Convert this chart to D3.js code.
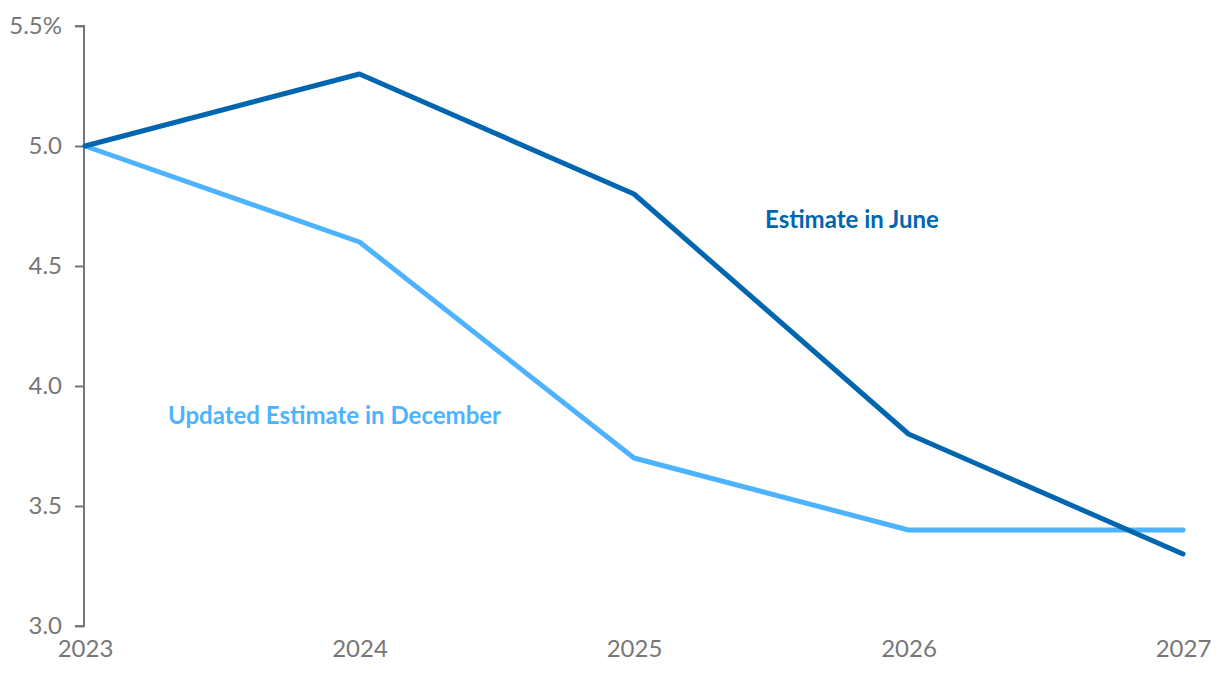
<!DOCTYPE html>
<html><head><meta charset="utf-8">
<script src="https://cdn.jsdelivr.net/npm/d3@7"></script>
<style>body{margin:0;background:#fff;font-family:Lato,sans-serif}</style>
</head><body><svg id="c" width="1220" height="678"></svg>
<script>
const years = [2023, 2024, 2025, 2026, 2027];
const juneEstimate = [5.0, 5.3, 4.8, 3.8, 3.3];
const decemberEstimate = [5.0, 4.6, 3.7, 3.4, 3.4];
const yTicks = [3.0, 3.5, 4.0, 4.5, 5.0, 5.5];
const seriesNames = ["Estimate in June", "Updated Estimate in December"];

const svg = d3.select("#c");
const x = d3.scaleLinear().domain([2023, 2027]).range([85, 1183]);
const y = d3.scaleLinear().domain([3.0, 5.5]).range([626, 26]);

const yAxis = d3.axisLeft(y).tickValues(yTicks).tickSize(9).tickPadding(13)
  .tickFormat(d => d === 5.5 ? d3.format(".1f")(d) + "%" : d3.format(".1f")(d));
const gy = svg.append("g").attr("transform", "translate(84,0)").call(yAxis);
gy.selectAll("path,line").attr("stroke", "#777").attr("stroke-width", 2);
gy.select(".domain").attr("d", `M-9,${y(5.5)}H0V${y(3.0)}H-9`);
gy.selectAll("text").attr("fill", "#777").style("font-family", "Lato").style("font-size", "24px");

const xAxis = d3.axisBottom(x).tickValues(years).tickFormat(d3.format("d")).tickSize(0).tickPadding(14);
const gx = svg.append("g").attr("transform", "translate(0,626)").call(xAxis);
gx.select(".domain").remove();
gx.selectAll("text").attr("fill", "#777").style("font-family", "Lato").style("font-size", "24px");

const line = d3.line().x((d, i) => x(years[i])).y(d => y(d));
svg.append("path").datum(decemberEstimate).attr("d", line)
  .attr("fill", "none").attr("stroke", "#4db3ff").attr("stroke-width", 5)
  .attr("stroke-linecap", "round").attr("stroke-linejoin", "round");
svg.append("path").datum(juneEstimate).attr("d", line)
  .attr("fill", "none").attr("stroke", "#0066b0").attr("stroke-width", 5)
  .attr("stroke-linecap", "round").attr("stroke-linejoin", "round");

svg.append("text").attr("x", 765).attr("y", 228).text(seriesNames[0])
  .attr("fill", "#0066b0").style("font-family", "Lato").style("font-weight", "bold").style("font-size", "24px");
svg.append("text").attr("x", 168).attr("y", 424).text(seriesNames[1])
  .attr("fill", "#4db3ff").style("font-family", "Lato").style("font-weight", "bold").style("font-size", "24px");
</script></body></html>
